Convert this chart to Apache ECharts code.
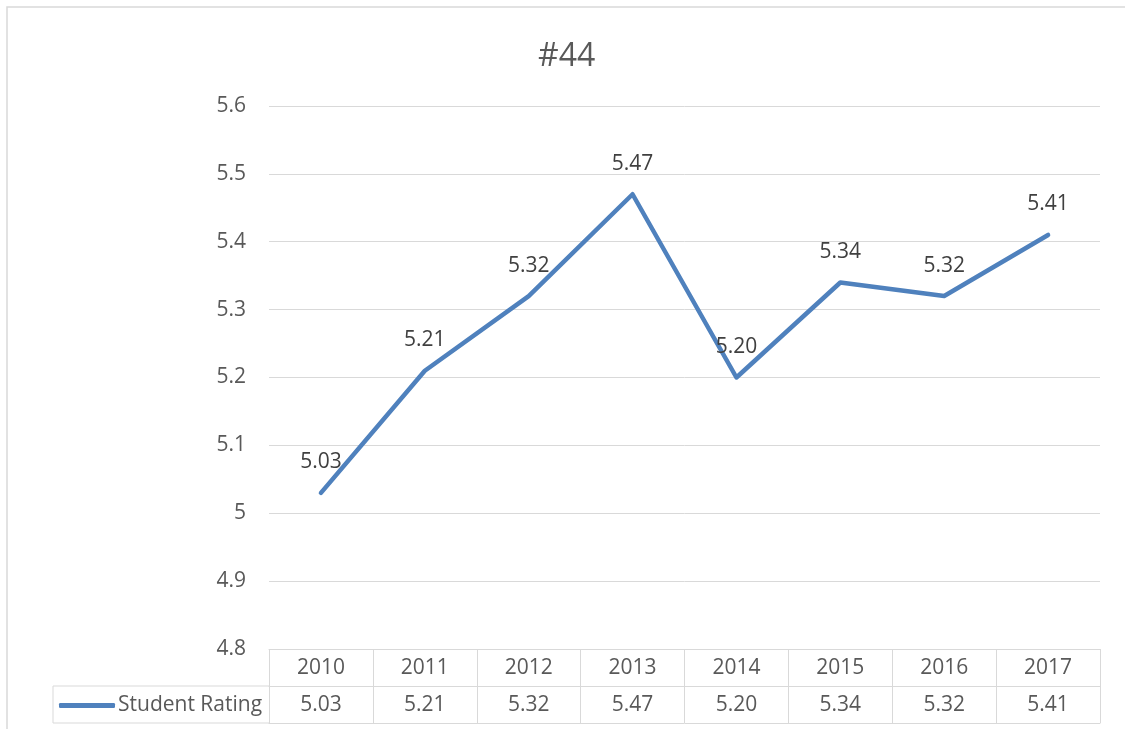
<!DOCTYPE html>
<html>
<head>
<meta charset="utf-8">
<script src="https://cdn.jsdelivr.net/npm/echarts@6/dist/echarts.min.js"></script>
<style>
  html, body { margin: 0; padding: 0; background: #fff; }
  #main { width: 1125px; height: 729px; }
</style>
</head>
<body>
<div id="main"></div>
<script>
// Data
var years = ['2010', '2011', '2012', '2013', '2014', '2015', '2016', '2017'];
var studentRating = [5.03, 5.21, 5.32, 5.47, 5.20, 5.34, 5.32, 5.41];
var seriesName = 'Student Rating';
var chartTitle = '#44';

var FONT = '"Open Sans", sans-serif';
var GRAY = '#d9d9d9';
var TEXT = '#595959';
var BLUE = '#4f81bd';

var myChart = echarts.init(document.getElementById('main'));

// value row of the data table, shown through a second category axis
var tableValues = studentRating.map(function (v) { return v.toFixed(2); });

var option = {
    animation: false,
    backgroundColor: '#fff',
    textStyle: { fontFamily: FONT },
    title: {
        text: chartTitle,
        left: 533,
        top: 36,
        textStyle: { fontSize: 32, fontWeight: 'normal', color: TEXT, fontFamily: FONT }
    },
    grid: { left: 269, right: 25, top: 106, bottom: 80 },
    legend: {
        data: [{ name: seriesName, itemStyle: { color: BLUE, opacity: 1 } }],
        left: 59,
        top: 695,
        padding: 0,
        icon: 'roundRect',
        itemWidth: 56,
        itemHeight: 5,
        itemGap: 5,
        textStyle: { fontSize: 21, color: TEXT, fontFamily: FONT, padding: [0, 0, 0, -2] }
    },
    xAxis: [
        {
            type: 'category',
            data: years,
            position: 'bottom',
            axisLine: { lineStyle: { color: GRAY, width: 1 } },
            axisTick: { show: true, length: 74, interval: 0, lineStyle: { color: GRAY, width: 1 } },
            axisLabel: { interval: 0, margin: 9, fontSize: 21, color: TEXT, fontFamily: FONT },
            splitLine: { show: false }
        },
        {
            type: 'category',
            data: tableValues,
            position: 'bottom',
            offset: 37,
            axisLine: { lineStyle: { color: GRAY, width: 1 } },
            axisTick: { show: false },
            axisLabel: { interval: 0, margin: 9, fontSize: 21, color: TEXT, fontFamily: FONT },
            splitLine: { show: false }
        },
        {
            type: 'category',
            data: years,
            position: 'bottom',
            offset: 74,
            axisLine: { lineStyle: { color: GRAY, width: 1 } },
            axisTick: { show: false },
            axisLabel: { show: false },
            splitLine: { show: false }
        }
    ],
    yAxis: {
        type: 'value',
        min: 4.8,
        max: 5.6,
        interval: 0.1,
        axisLine: { show: false },
        axisTick: { show: false },
        axisLabel: { margin: 23, fontSize: 21, color: TEXT, fontFamily: FONT },
        splitLine: { lineStyle: { color: GRAY, width: 1 } }
    },
    series: [
        {
            name: seriesName,
            type: 'line',
            xAxisIndex: 0,
            data: studentRating,
            symbol: 'circle',
            symbolSize: 2,
            showSymbol: true,
            color: BLUE,
            itemStyle: { color: BLUE },
            lineStyle: { width: 4.5, color: BLUE, cap: 'round', join: 'round' },
            label: {
                show: true,
                position: 'top',
                distance: 19,
                fontSize: 21,
                color: '#404040',
                fontFamily: FONT,
                formatter: function (p) { return p.value.toFixed(2); }
            },
            labelLayout: { hideOverlap: false }
        }
    ],
    graphic: [
        // outer chart border
        { type: 'rect', silent: true, shape: { x: 7, y: 7, width: 1140, height: 740 },
          style: { fill: null, stroke: GRAY, lineWidth: 1.5 } },
        // legend cell of the data table
        { type: 'line', silent: true, shape: { x1: 53, y1: 686, x2: 269, y2: 686 },
          style: { stroke: GRAY, lineWidth: 1 } },
        { type: 'line', silent: true, shape: { x1: 53, y1: 723, x2: 269, y2: 723 },
          style: { stroke: GRAY, lineWidth: 1 } },
        { type: 'line', silent: true, shape: { x1: 53, y1: 686, x2: 53, y2: 723 },
          style: { stroke: GRAY, lineWidth: 1 } }
    ]
};

myChart.setOption(option);
</script>
</body>
</html>
